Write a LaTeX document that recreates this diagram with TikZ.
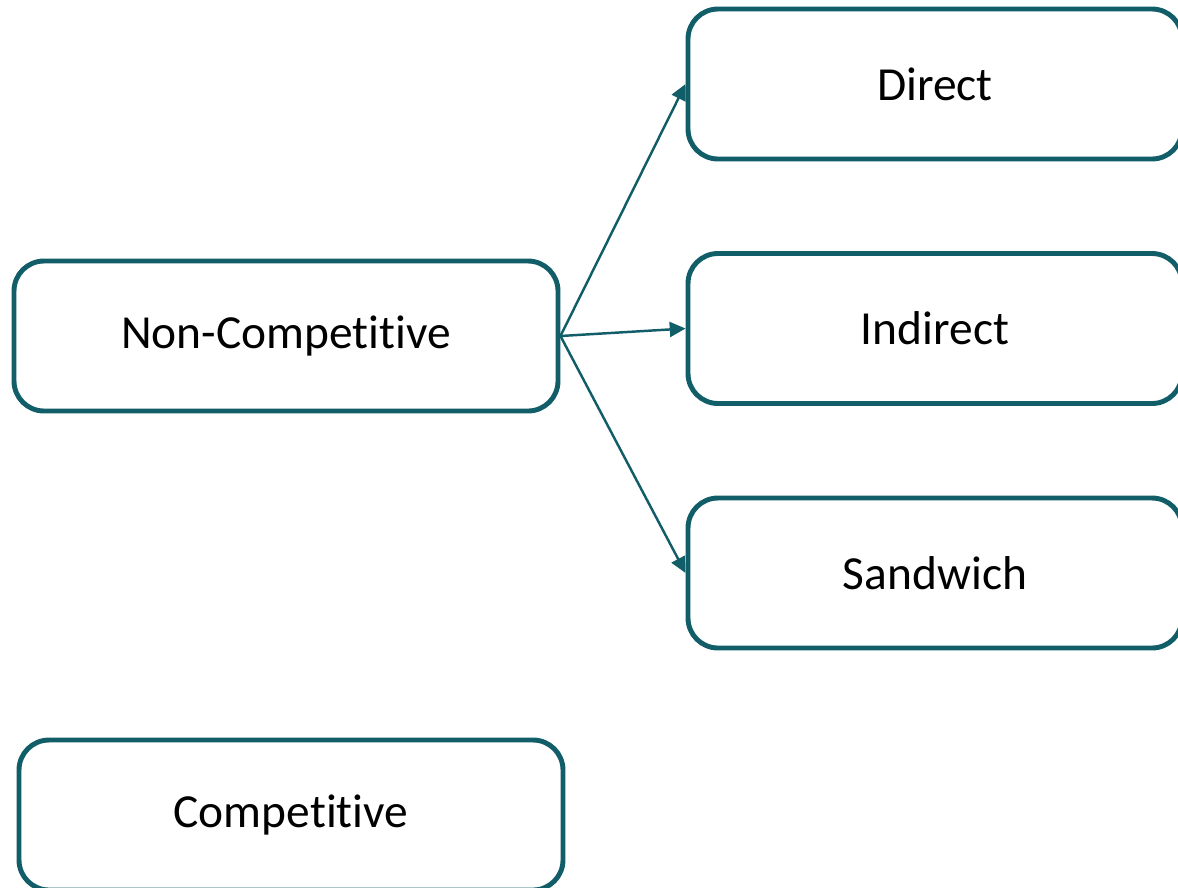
\documentclass[tikz,border=0pt]{standalone}
\usepackage{fontspec}
\setmainfont[Ligatures=NoCommon]{Carlito}
\usetikzlibrary{arrows.meta}
\definecolor{tcol}{RGB}{18,94,104}
\tikzset{box/.style={draw=tcol,line width=2.8pt,rounded corners=0.6cm,minimum height=3cm,text=black,font=\fontsize{27}{32}\selectfont}}
\tikzset{wide/.style={minimum width=10.88cm}}
\tikzset{narrow/.style={minimum width=9.88cm}}
\tikzset{edge/.style={tcol,line width=1.4pt,-{Triangle[length=9pt,width=8.5pt]}}}

\begin{document}
\begin{tikzpicture}
\useasboundingbox (0,0) rectangle (23.56,-17.74);

\node [box,wide] (nc) at (5.72,-6.72) {Non-Competitive};
\node [box,wide] (c) at (5.82,-16.3) {Competitive};

\node [box,narrow] (d) at (18.7,-1.68) {Direct};
\node [box,narrow] (i) at (18.7,-6.57) {Indirect};
\node [box,narrow] (s) at (18.7,-11.46) {Sandwich};

\draw [edge] (nc.east) -- (d.west);
\draw [edge] (nc.east) -- (i.west);
\draw [edge] (nc.east) -- (s.west);
\end{tikzpicture}
\end{document}
